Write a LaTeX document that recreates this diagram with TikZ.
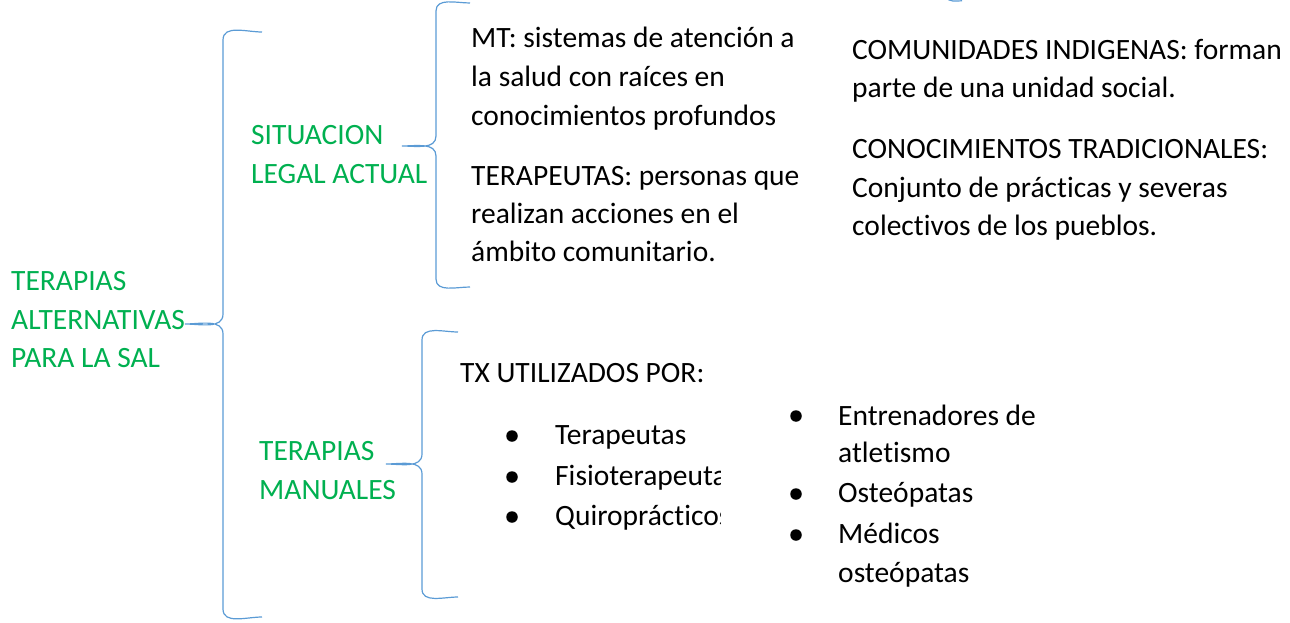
\documentclass[tikz,border=0pt]{standalone}
\usepackage{fontspec}
\setmainfont{Carlito}[Ligatures=NoCommon]
\definecolor{wgreen}{HTML}{00B050}
\definecolor{wblue}{HTML}{5B9BD5}
\begin{document}
\begin{tikzpicture}[x=1pt,y=-1pt,
  txt/.style={anchor=base west,inner sep=0pt,font=\fontsize{29.5}{38.5}\selectfont},
  gtxt/.style={txt,text=wgreen},
  btxt/.style={txt,text=black},
  bul/.style={circle,fill=black,inner sep=0pt,minimum size=11.5pt},
  brace/.style={draw=wblue,line width=1.2pt}]
\useasboundingbox (0,0) rectangle (1290,623);
% left root label
\node[gtxt] (r1) at (11,290) {TERAPIAS};
\node[gtxt] (r2) at (11,329) {ALTERNATIVAS};
\node[gtxt] (r3) at (11,367) {PARA LA SAL};
% second level labels
\node[gtxt] (s1) at (251,144) {SITUACION};
\node[gtxt] (s2) at (251,183) {LEGAL ACTUAL};
\node[gtxt] (m1) at (259,460) {TERAPIAS};
\node[gtxt] (m2) at (259,499) {MANUALES};
% MT / TERAPEUTAS
\node[btxt] (a1) at (471,48) {MT: sistemas de atención a};
\node[btxt] (a2) at (471,87) {la salud con raíces en};
\node[btxt] (a3) at (471,125) {conocimientos profundos};
\node[btxt] (b1) at (471,185) {TERAPEUTAS: personas que};
\node[btxt] (b2) at (471,223) {realizan acciones en el};
\node[btxt] (b3) at (471,261) {ámbito comunitario.};
% right column
\node[btxt] (c1) at (852,60) {COMUNIDADES INDIGENAS: forman};
\node[btxt] (c2) at (852,98) {parte de una unidad social.};
\node[btxt] (d1) at (852,158) {CONOCIMIENTOS TRADICIONALES:};
\node[btxt] (d2) at (852,197) {Conjunto de prácticas y severas};
\node[btxt] (d3) at (852,235) {colectivos de los pueblos.};
% TX
\node[btxt] (t0) at (460,382) {TX UTILIZADOS POR:};
\begin{scope}
\clip (440,390) rectangle (720,560);
\node[btxt] (t1) at (555,444) {Terapeutas};
\node[btxt] (t2) at (555,485) {Fisioterapeutas};
\node[btxt] (t3) at (555,525) {Quiroprácticos};
\end{scope}
\node[bul] (u1) at (512,436) {};
\node[bul] (u2) at (512,477) {};
\node[bul] (u3) at (512,517) {};
\node[btxt] (e1) at (838,425) {Entrenadores de};
\node[btxt] (e2) at (838,462) {atletismo};
\node[btxt] (e3) at (838,502) {Osteópatas};
\node[btxt] (e4) at (838,543) {Médicos};
\node[btxt] (e5) at (838,582) {osteópatas};
\node[bul] (v1) at (796,416) {};
\node[bul] (v2) at (796,494) {};
\node[bul] (v3) at (796,535) {};
% brace coordinates
\coordinate (B0tip) at (185,324);
\coordinate (B0top) at (262,32);
\coordinate (B0bot) at (262,617);
\coordinate (B1tip) at (402,146);
\coordinate (B1top) at (470,3);
\coordinate (B1bot) at (470,287);
\coordinate (B2tip) at (386,464);
\coordinate (B2top) at (458,332);
\coordinate (B2bot) at (458,597);
% braces
\draw[brace] (B0top) to[out=180,in=90] (223,40) -- (223,314)
  to[out=-90,in=0] (B0tip) to[out=0,in=90] (223,334) -- (223,609)
  to[out=-90,in=180] (B0bot);
\draw[brace] (B1top) to[out=180,in=90] (436,11) -- (436,136)
  to[out=-90,in=0] (B1tip) to[out=0,in=90] (436,156) -- (436,279)
  to[out=-90,in=180] (B1bot);
\draw[brace] (B2top) to[out=180,in=90] (422,340) -- (422,454)
  to[out=-90,in=0] (B2tip) to[out=0,in=90] (422,474) -- (422,589)
  to[out=-90,in=180] (B2bot);
% fragment of a brace cut by the top edge
\coordinate (F0) at (946,-3);
\coordinate (F1) at (962,0.8);
\draw[brace] (F0) to[out=-60,in=180] (F1);
\end{tikzpicture}
\end{document}
